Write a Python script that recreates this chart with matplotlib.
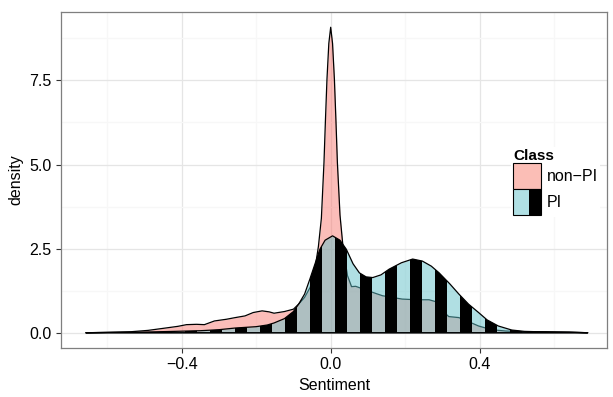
import numpy as np
import matplotlib.pyplot as plt
from matplotlib.patches import Rectangle, Patch
from matplotlib.legend_handler import HandlerBase

plt.rcParams['font.family'] = ['Liberation Sans', 'DejaVu Sans']

## Density curves
non_pi_x = [-0.656, -0.60, -0.536, -0.49, -0.443, -0.41, -0.387, -0.36, -0.339, -0.312,
            -0.28, -0.256, -0.23, -0.208, -0.184, -0.165, -0.152, -0.124, -0.10, -0.086,
            -0.07, -0.055, -0.045, -0.033, -0.025, -0.018, -0.014, -0.010, -0.005, 0.0,
            0.005, 0.010, 0.014, 0.018, 0.025, 0.033, 0.045, 0.056, 0.067, 0.077,
            0.10, 0.123, 0.139, 0.165, 0.192, 0.23, 0.264, 0.283, 0.30, 0.317,
            0.344, 0.37, 0.397, 0.432, 0.47, 0.52, 0.58, 0.64, 0.69]
non_pi_y = [0.0, 0.01, 0.03, 0.07, 0.14, 0.19, 0.24, 0.25, 0.24, 0.35,
            0.40, 0.45, 0.50, 0.60, 0.65, 0.62, 0.58, 0.63, 0.70, 0.85,
            1.05, 1.35, 1.70, 2.56, 3.40, 5.06, 6.34, 7.53, 8.60, 9.08,
            8.60, 7.53, 6.34, 5.06, 3.50, 2.56, 1.70, 1.37, 1.38, 1.34,
            1.25, 1.16, 1.10, 1.05, 1.00, 0.98, 0.98, 0.92, 0.65, 0.48,
            0.45, 0.33, 0.20, 0.09, 0.05, 0.03, 0.03, 0.02, 0.0]

pi_x = [-0.656, -0.60, -0.50, -0.42, -0.35, -0.30, -0.256, -0.20, -0.17, -0.152,
        -0.124, -0.10, -0.086, -0.07, -0.056, -0.042, -0.029, -0.015, 0.005, 0.025,
        0.042, 0.06, 0.077, 0.095, 0.113, 0.135, 0.157, 0.19, 0.22, 0.246,
        0.27, 0.291, 0.32, 0.344, 0.37, 0.397, 0.42, 0.45, 0.486, 0.52,
        0.587, 0.64, 0.69]
pi_y = [0.0, 0.01, 0.02, 0.04, 0.06, 0.09, 0.14, 0.18, 0.23, 0.29,
        0.42, 0.63, 0.85, 1.15, 1.59, 2.05, 2.48, 2.75, 2.88, 2.75,
        2.48, 2.05, 1.78, 1.66, 1.64, 1.72, 1.89, 2.08, 2.19, 2.13,
        1.98, 1.78, 1.45, 1.15, 0.85, 0.60, 0.38, 0.20, 0.08, 0.04,
        0.02, 0.015, 0.0]

classes = ['non\u2212PI', 'PI']
x_ticks = [-0.4, 0.0, 0.4]
y_ticks = [0.0, 2.5, 5.0, 7.5]

NON_PI_COL = '#F8766D'
PI_COL = '#62C1C9'
PI_LIGHT = '#B0E0E4'
NON_PI_LIGHT = '#FBBEB6'

fig = plt.figure(figsize=(6.13, 3.97), dpi=100)
ax = fig.add_axes([60.7/613, 1 - 348/397, (607 - 60.7)/613, (348 - 12)/397])

## non-PI density underneath
ax.fill_between(non_pi_x, non_pi_y, 0, color=NON_PI_COL, alpha=0.48, lw=0, zorder=2)
ax.plot(non_pi_x + [non_pi_x[0]], non_pi_y + [non_pi_y[0]], color='black', lw=0.9, zorder=2.1)

## PI density with stripes on top
poly = ax.fill_between(pi_x, pi_y, 0, color=PI_COL, alpha=0.5, lw=0, zorder=3)
period = 0.0671
start = -0.1229 - 10*period
lefts = start + period*np.arange(25)
bars = ax.bar(lefts, 10, width=period/2, align='edge', bottom=-1, color='black', lw=0, zorder=3.1)
clip = poly.get_paths()[0]
for b in bars:
    b.set_clip_path(clip, ax.transData)
ax.plot(pi_x + [pi_x[0]], pi_y + [pi_y[0]], color='black', lw=0.9, zorder=4)

ax.set_xlim(-0.7247, 0.7417)
ax.set_ylim(-0.454, 9.534)

## theme_bw look
ax.set_xticks(x_ticks)
ax.set_xticklabels(['\u22120.4', '0.0', '0.4'])
ax.set_yticks(y_ticks)
ax.set_yticklabels(['0.0', '2.5', '5.0', '7.5'])
ax.set_xticks([-0.6, -0.2, 0.2, 0.6], minor=True)
ax.set_yticks([1.25, 3.75, 6.25, 8.75], minor=True)
ax.grid(True, which='major', color='#E5E5E5', lw=0.9, zorder=0)
ax.grid(True, which='minor', color='#F7F7F7', lw=0.9, zorder=0)
ax.set_axisbelow(True)
ax.tick_params(which='major', length=3.8, width=0.8, color='#333333', labelsize=11.5, pad=3, labelcolor='black')
ax.tick_params(which='minor', length=0)
for s in ax.spines.values():
    s.set_color('#7F7F7F')
    s.set_linewidth(0.9)

ax.set_xlabel('Sentiment', fontsize=11.5, labelpad=4)
ax.set_ylabel('density', fontsize=11.5, labelpad=4)


class StripeKey(HandlerBase):
    def create_artists(self, legend, orig_handle, xdescent, ydescent, width, height, fontsize, trans):
        x0, y0 = -xdescent, -ydescent
        light = Rectangle((x0, y0), width*0.57, height, facecolor=PI_LIGHT, edgecolor='none', transform=trans)
        dark = Rectangle((x0 + width*0.57, y0), width*0.43, height, facecolor='black', edgecolor='none', transform=trans)
        edge = Rectangle((x0, y0), width, height, facecolor='none', edgecolor='black', lw=0.8, transform=trans)
        return [light, dark, edge]


h_non = Patch(facecolor=NON_PI_LIGHT, edgecolor='black', lw=0.8)
h_pi = Patch(facecolor=PI_LIGHT)
leg = ax.legend([h_non, h_pi], classes, title='Class', loc='upper left',
                bbox_to_anchor=(511/613, 1 - 147/397), bbox_transform=fig.transFigure,
                handler_map={h_pi: StripeKey()}, fontsize=11.5,
                title_fontproperties={'weight': 'bold', 'size': 11},
                handlelength=1.75, handleheight=2.1, labelspacing=0, handletextpad=0.35,
                borderpad=0.15, borderaxespad=0, frameon=True, fancybox=False)
leg.get_frame().set_facecolor('white')
leg.get_frame().set_edgecolor('none')
leg.get_frame().set_alpha(1)
leg._legend_box.align = 'left'

fig.savefig('out.png', dpi=100)
